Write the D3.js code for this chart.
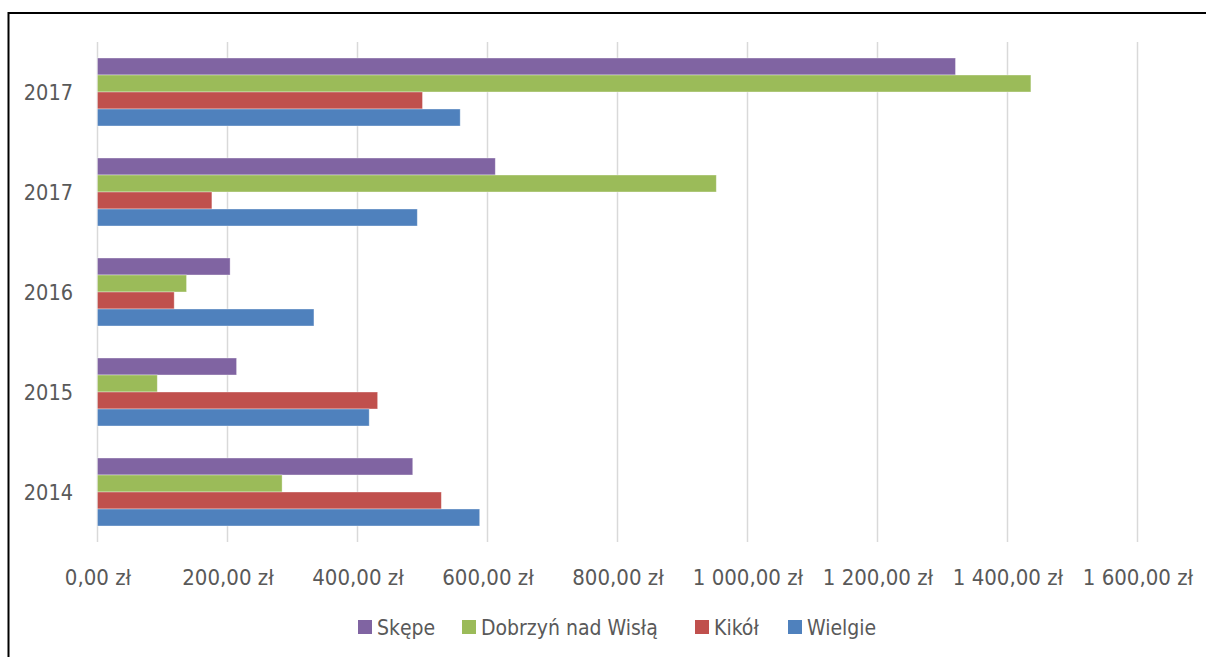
<!DOCTYPE html>
<html>
<head>
<meta charset="utf-8">
<script src="https://cdn.jsdelivr.net/npm/d3@7"></script>
<style>
  html, body { margin: 0; padding: 0; background: #ffffff; }
  svg { display: block; }
  text { font-family: "DejaVu Sans Condensed", "DejaVu Sans", sans-serif; font-stretch: condensed; fill: #595959; }
</style>
</head>
<body>
<svg id="chart" width="1206" height="657"></svg>
<script>
// ---- data ----
const categories = ["2017", "2017", "2016", "2015", "2014"];
const seriesNames = ["Skępe", "Dobrzyń nad Wisłą", "Kikół", "Wielgie"];
const seriesColors = ["#8064A2", "#9BBB59", "#C0504D", "#4F81BD"];
const skepe    = [1320, 612, 204, 214, 485];
const dobrzyn  = [1436, 952, 137, 92, 284];
const kikol    = [500, 176, 118, 431, 529];
const wielgie  = [558, 492, 333, 418, 588];
const tickValues = [0, 200, 400, 600, 800, 1000, 1200, 1400, 1600];
const tickLabels = ["0,00 zł", "200,00 zł", "400,00 zł", "600,00 zł", "800,00 zł", "1 000,00 zł", "1 200,00 zł", "1 400,00 zł", "1 600,00 zł"];

const seriesValues = [skepe, dobrzyn, kikol, wielgie];

const svg = d3.select("#chart");
const plot = { left: 97.5, right: 1137.5, top: 42, bottom: 542 };

const x = d3.scaleLinear().domain([0, 1600]).range([plot.left, plot.right]);
const y = d3.scaleBand().domain(d3.range(categories.length)).range([plot.top, plot.bottom])
  .paddingInner(0.32).paddingOuter(0.16);
const ySub = d3.scaleBand().domain(d3.range(seriesNames.length)).range([0, y.bandwidth()]);

// frame
svg.append("rect").attr("x", 8.5).attr("y", 13).attr("width", 1400).attr("height", 800)
  .attr("fill", "none").attr("stroke", "#000").attr("stroke-width", 2);

// gridlines
svg.append("g").selectAll("line").data(tickValues).join("line")
  .attr("x1", d => x(d)).attr("x2", d => x(d))
  .attr("y1", plot.top).attr("y2", plot.bottom)
  .attr("stroke", "#d9d9d9").attr("stroke-width", 1.5);

// bars
const groups = svg.append("g").selectAll("g").data(categories).join("g")
  .attr("transform", (d, i) => `translate(0,${y(i)})`);
groups.selectAll("rect").data((d, i) => seriesValues.map((vals, s) => ({ s, v: vals[i] })))
  .join("rect")
  .attr("x", x(0))
  .attr("y", d => ySub(d.s))
  .attr("width", d => x(d.v) - x(0))
  .attr("height", ySub.bandwidth())
  .attr("fill", d => seriesColors[d.s])
  .attr("stroke", "rgba(255,255,255,0.45)").attr("stroke-width", 0.8);

// x axis labels
const xAxis = d3.axisBottom(x).tickValues(tickValues).tickSize(0).tickPadding(0)
  .tickFormat((d, i) => tickLabels[i]);
const gx = svg.append("g").attr("transform", `translate(0,${plot.bottom})`).call(xAxis);
gx.select(".domain").remove();
gx.selectAll("text").attr("dy", null).attr("y", 43).attr("font-size", 22).style("fill", "#595959")
  .attr("font-family", null);

// y axis labels
const yAxis = d3.axisLeft(y).tickSize(0).tickPadding(0).tickFormat(i => categories[i]);
const gy = svg.append("g").attr("transform", `translate(73,0)`).call(yAxis);
gy.select(".domain").remove();
gy.selectAll("text").attr("x", 0).attr("dy", "0.36em").attr("font-size", 21.5).style("fill", "#595959")
  .attr("font-family", null);

// legend
const legendItems = [
  { name: seriesNames[0], color: seriesColors[0], x: 358 },
  { name: seriesNames[1], color: seriesColors[1], x: 462 },
  { name: seriesNames[2], color: seriesColors[2], x: 695 },
  { name: seriesNames[3], color: seriesColors[3], x: 788 }
];
const lg = svg.append("g").selectAll("g").data(legendItems).join("g")
  .attr("transform", d => `translate(${d.x},620)`);
lg.append("rect").attr("width", 14).attr("height", 14).attr("fill", d => d.color);
lg.append("text").attr("x", 19).attr("y", 7).attr("dy", "0.36em")
  .attr("font-size", 21).text(d => d.name);
</script>
</body>
</html>
